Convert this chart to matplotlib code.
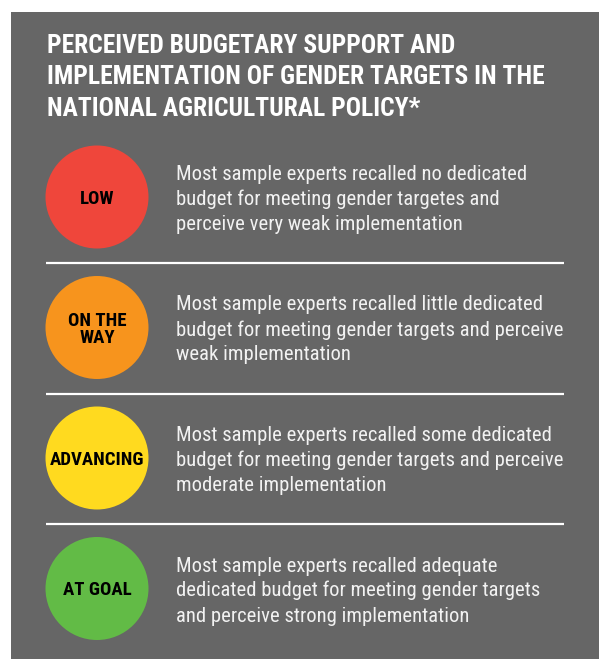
import matplotlib
matplotlib.use("Agg")
import matplotlib.pyplot as plt
from matplotlib.patches import Rectangle, Circle
from matplotlib import font_manager as fm

names = {f.name for f in fm.fontManager.ttflist}
fam = [n for n in ['Roboto Condensed', 'Liberation Sans Narrow', 'Roboto', 'DejaVu Sans'] if n in names]

title_lines = ["PERCEIVED BUDGETARY SUPPORT AND",
               "IMPLEMENTATION OF GENDER TARGETS IN THE",
               "NATIONAL AGRICULTURAL POLICY*"]
levels = ["LOW", "ON THE\nWAY", "ADVANCING", "AT GOAL"]
level_colors = ["#EF463B", "#F7941D", "#FFDA1F", "#62BB46"]
descriptions = [
    ["Most sample experts recalled no dedicated",
     "budget for meeting gender targetes and",
     "perceive very weak implementation"],
    ["Most sample experts recalled little dedicated",
     "budget for meeting gender targets and perceive",
     "weak implementation"],
    ["Most sample experts recalled some dedicated",
     "budget for meeting gender targets and perceive",
     "moderate implementation"],
    ["Most sample experts recalled adequate",
     "dedicated budget for meeting gender targets",
     "and perceive strong implementation"],
]

W, H = 599, 659
fig = plt.figure(figsize=(W / 100, H / 100), dpi=100)
fig.patch.set_facecolor("white")
ax = fig.add_axes([0, 0, 1, 1])
ax.set_xlim(0, W)
ax.set_ylim(H, 0)
ax.axis("off")

ax.add_patch(Rectangle((11, 12), W - 11, H - 12, facecolor="#666666", edgecolor="none"))

for k, line in enumerate(title_lines):
    ax.text(47, 53 + k * 31.5, line, color="white", fontsize=18.4, fontweight="bold",
            family=fam, va="baseline", ha="left")

cx, r = 97, 51.5
for i, (lab, col, desc) in enumerate(zip(levels, level_colors, descriptions)):
    cy = 197 + i * 130.5
    ax.add_patch(Circle((cx, cy), r, facecolor=col, edgecolor="none"))
    parts = lab.split("\n")
    n = len(parts)
    for j, p in enumerate(parts):
        base = cy + 6.7 + (j - (n - 1) / 2) * 17.3
        ax.text(cx, base, p, color="black", fontsize=13.6, fontweight="bold", family=fam,
                ha="center", va="baseline")
    for k, line in enumerate(desc):
        ax.text(176, cy - 17 + k * 25, line, color="#F2F2F2", fontsize=14.85, family=fam,
                ha="left", va="baseline")
    if i < len(levels) - 1:
        ax.plot([46, 564], [cy + 66, cy + 66], color="white", lw=1.6, solid_capstyle="butt")

fig.savefig("out.png", dpi=100, facecolor="white")
